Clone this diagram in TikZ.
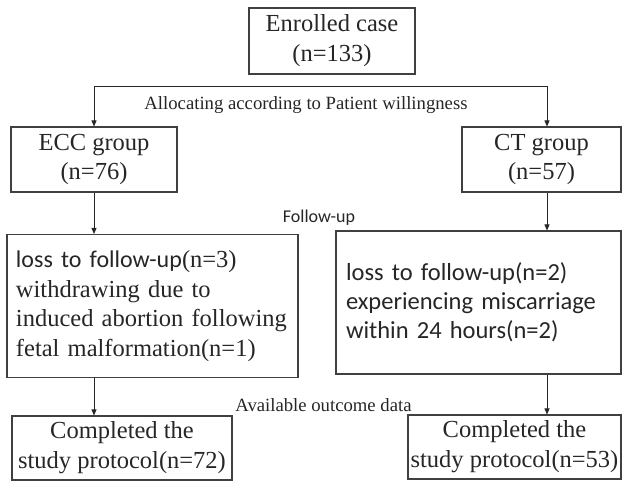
\documentclass[tikz,border=0pt]{standalone}
\usepackage{fontspec}
\setmainfont{Liberation Serif}
\newfontfamily\carlito{Carlito}
\usetikzlibrary{arrows.meta,positioning}

\begin{document}
\begin{tikzpicture}[
    x=1pt, y=-1pt,
    box/.style={rectangle, draw=black!75, line width=1.1pt, text=black!85, align=center, inner sep=0pt},
    lbl/.style={text=black!85, inner sep=0pt},
    arrow/.style={-{Triangle[length=6pt,width=5pt]}, line width=0.9pt, black!85}
]
    \useasboundingbox (0,0) rectangle (622,481);

    % Enrolment
    \node[box, minimum width=166pt, minimum height=66pt, font=\fontsize{24.5}{30}\selectfont] (enrol) at (332,41) {Enrolled case\\(n=133)};

    % Groups
    \node[box, minimum width=166pt, minimum height=65pt, font=\fontsize{24.5}{29}\selectfont] (ecc) at (94,159.5) {ECC group\\(n=76)};
    \node[box, minimum width=159pt, minimum height=65pt, font=\fontsize{24.5}{29}\selectfont] (ct) at (541.5,159.5) {CT group\\(n=57)};

    % Follow-up boxes
    \node[box, minimum width=291pt, minimum height=143pt, text width=273pt, inner xsep=9pt, align=left, font=\fontsize{24.5}{29.7}\selectfont] (lossecc) at (152.5,306)
        {{\carlito\fontsize{24}{29.7}\selectfont loss to follow-up}(n=3)\\withdrawing due to\\induced abortion following\\fetal malformation(n=1)};
    \node[box, minimum width=285pt, minimum height=143pt, text width=265pt, inner xsep=10pt, align=left, font=\carlito\fontsize{24.5}{29}\selectfont] (lossct) at (478.5,302.5)
        {loss to follow-up(n=2)\\experiencing miscarriage\\within 24 hours(n=2)};

    % Completed boxes
    \node[box, minimum width=220pt, minimum height=64pt, font=\fontsize{24.5}{30}\selectfont] (doneecc) at (122,448) {Completed the\\study protocol(n=72)};
    \node[box, minimum width=213pt, minimum height=64pt, font=\fontsize{24.5}{30}\selectfont] (donect) at (514.5,447) {Completed the\\study protocol(n=53)};

    % Stage labels
    \node[lbl, font=\fontsize{18.7}{20}\selectfont] (alloc) at (306,105) {Allocating according to Patient willingness};
    \node[lbl, font=\carlito\fontsize{18}{19}\selectfont] (follow) at (319,218) {Follow-up};
    \node[lbl, font=\fontsize{18.7}{20}\selectfont] (avail) at (323.5,405) {Available outcome data};

    % Branch line
    \coordinate (splitL) at (94,86);
    \coordinate (splitR) at (547,86);
    \draw[line width=0.9pt, black!85] (splitL) -- (splitR);

    % Arrows
    \draw[arrow] (splitL) -- (splitL |- ecc.north);
    \draw[arrow] (splitR) -- (splitR |- ct.north);
    \draw[arrow] (splitL |- ecc.south) -- (splitL |- lossecc.north);
    \draw[arrow] (splitR |- ct.south) -- (splitR |- lossct.north);
    \draw[arrow] (splitL |- lossecc.south) -- (splitL |- doneecc.north);
    \draw[arrow] (splitR |- lossct.south) -- (splitR |- donect.north);

\end{tikzpicture}
\end{document}
